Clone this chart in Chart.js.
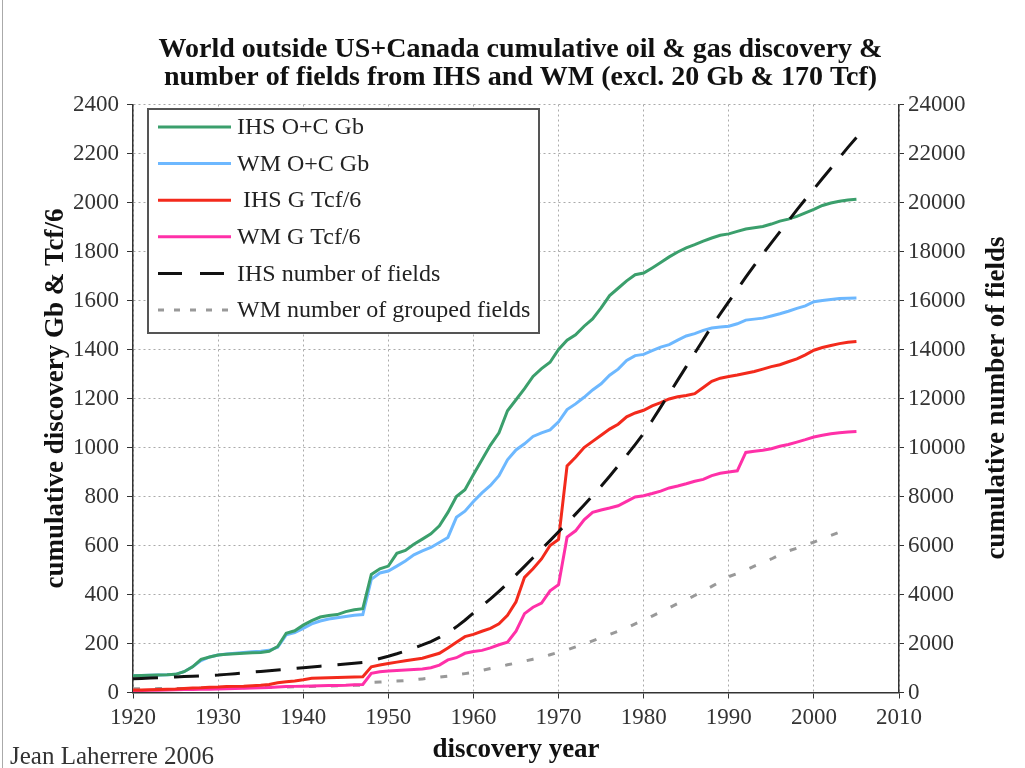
<!DOCTYPE html>
<html>
<head>
<meta charset="utf-8">
<title>World outside US+Canada cumulative oil & gas discovery</title>
<script src="https://cdn.jsdelivr.net/npm/chart.js@4.4.1/dist/chart.umd.min.js"></script>
<style>
  html, body { margin: 0; padding: 0; background: #fff; }
  #wrap { width: 1025px; height: 768px; }
</style>
</head>
<body>
<div id="wrap"><canvas id="discoveryChart" width="1025" height="768"></canvas></div>
<script>
  const years = [
    1920, 1921, 1922, 1923, 1924, 1925, 1926, 1927, 1928, 1929,
    1930, 1931, 1932, 1933, 1934, 1935, 1936, 1937, 1938, 1939,
    1940, 1941, 1942, 1943, 1944, 1945, 1946, 1947, 1948, 1949,
    1950, 1951, 1952, 1953, 1954, 1955, 1956, 1957, 1958, 1959,
    1960, 1961, 1962, 1963, 1964, 1965, 1966, 1967, 1968, 1969,
    1970, 1971, 1972, 1973, 1974, 1975, 1976, 1977, 1978, 1979,
    1980, 1981, 1982, 1983, 1984, 1985, 1986, 1987, 1988, 1989,
    1990, 1991, 1992, 1993, 1994, 1995, 1996, 1997, 1998, 1999,
    2000, 2001, 2002, 2003, 2004, 2005
  ];

  // left axis, Gb
  const ihsOilGas = [
    68, 69, 70, 71, 72, 74, 85, 105, 135, 145,
    153, 156, 158, 160, 162, 163, 168, 188, 242, 252,
    275, 293, 308, 314, 318, 330, 338, 342, 482, 505,
    516, 568, 580, 605, 626, 648, 680, 735, 800, 828,
    890, 950, 1010, 1060, 1150, 1195, 1240, 1290, 1322, 1348,
    1400, 1438, 1460, 1495, 1525, 1570, 1620, 1650, 1680, 1705,
    1712, 1733, 1755, 1778, 1798, 1815, 1828, 1842, 1855, 1866,
    1872, 1882, 1892, 1897, 1902, 1912, 1924, 1932, 1943, 1958,
    1972, 1988, 1998, 2005, 2010, 2013
  ];
  const wmOilGas = [
    68, 69, 70, 71, 72, 74, 85, 105, 130, 145,
    153, 157, 160, 163, 166, 168, 172, 185, 235, 245,
    262, 280, 292, 300, 305, 310, 315, 318, 462, 488,
    496, 516, 537, 562, 578, 592, 612, 633, 715, 740,
    780, 815, 845, 885, 950, 990, 1015, 1045, 1060, 1072,
    1105, 1155, 1178, 1205, 1235, 1260, 1295, 1320, 1355, 1375,
    1380, 1395, 1410, 1420, 1438, 1455, 1465, 1478, 1488, 1492,
    1495, 1505, 1520, 1524, 1528, 1537, 1546, 1556, 1568, 1578,
    1595, 1600, 1604, 1608, 1609, 1610
  ];
  const ihsGas = [
    10, 10, 11, 12, 13, 14, 16, 18, 19, 21,
    22, 24, 25, 26, 28, 30, 33, 40, 44, 47,
    52, 58, 59, 60, 61, 62, 63, 64, 105, 112,
    118, 124, 130, 135, 140, 150, 160, 182, 205, 228,
    237, 250, 262, 280, 315, 370, 470, 505, 545, 600,
    625, 925, 960, 1000, 1025, 1050, 1075, 1095, 1125, 1141,
    1152, 1170, 1183, 1198, 1207, 1212, 1220, 1245, 1270, 1283,
    1290, 1296, 1303, 1310, 1320, 1330, 1338, 1350, 1362, 1378,
    1397, 1408, 1416, 1424, 1430, 1433
  ];
  const wmGas = [
    8, 8, 9, 9, 10, 11, 12, 12, 13, 13,
    14, 15, 16, 17, 18, 19, 20, 22, 24, 25,
    26, 27, 28, 29, 29, 30, 32, 33, 78, 85,
    88, 90, 92, 94, 96, 101, 112, 133, 142, 160,
    167, 172, 182, 195, 205, 250, 322, 348, 365, 415,
    440, 634, 660, 705, 735, 745, 753, 762, 780, 798,
    803, 812, 822, 835, 843, 852, 862, 870, 885, 895,
    900, 905, 980, 985, 989, 995, 1005, 1012, 1022, 1032,
    1043, 1050, 1056, 1060, 1063, 1065
  ];

  // right axis, number of fields
  const ihsFields = [
    560, 575, 590, 605, 620, 635, 650, 665, 680, 695,
    710, 740, 770, 800, 830, 860, 890, 920, 950, 985,
    1015, 1045, 1075, 1105, 1135, 1165, 1195, 1230, 1300, 1390,
    1480, 1580, 1690, 1810, 1940, 2080, 2250, 2450, 2680, 2950,
    3250, 3530, 3820, 4130, 4450, 4800, 5150, 5500, 5850, 6200,
    6560, 6920, 7280, 7650, 8030, 8420, 8830, 9250, 9680, 10120,
    10580, 11100, 11650, 12200, 12750, 13300, 13850, 14400, 14950, 15450,
    15950, 16450, 16950, 17430, 17900, 18350, 18800, 19250, 19700, 20130,
    20550, 20980, 21400, 21830, 22250, 22650
  ];
  const wmGroupedFields = [
    150, 153, 156, 159, 162, 165, 168, 171, 174, 177,
    180, 186, 192, 198, 204, 210, 216, 222, 228, 234,
    240, 248, 257, 266, 275, 283, 291, 300, 410, 425,
    440, 465, 490, 520, 555, 590, 630, 670, 720, 770,
    820, 900, 980, 1050, 1130, 1200, 1280, 1360, 1440, 1540,
    1640, 1740, 1860, 1980, 2110, 2240, 2370, 2500, 2630, 2800,
    2950, 3120, 3290, 3460, 3630, 3790, 3960, 4150, 4330, 4530,
    4730, 4860, 5000, 5160, 5310, 5450, 5620, 5780, 5890, 6020,
    6140, 6280, 6410, 6540, 6650, null
  ];

  const titleLines = [
    'World outside US+Canada cumulative oil & gas discovery &',
    'number of fields from IHS and WM (excl. 20 Gb & 170 Tcf)'
  ];
  const leftTitle = 'cumulative discovery Gb & Tcf/6';
  const rightTitle = 'cumulative number of fields';
  const xTitle = 'discovery year';
  const credit = 'Jean Laherrere 2006';

  const SERIF = '"Liberation Serif", "Times New Roman", serif';

  function points(values) {
    return years.map((yr, i) => ({ x: yr, y: values[i] }));
  }

  // white page, legend box, right axis title and credit
  const extrasPlugin = {
    id: 'extras',
    beforeDraw(chart) {
      const ctx = chart.ctx;
      ctx.save();
      ctx.fillStyle = '#fff';
      ctx.fillRect(0, 0, chart.width, chart.height);
      ctx.strokeStyle = '#aaa';
      ctx.lineWidth = 1;
      ctx.beginPath();
      ctx.moveTo(2.5, 0);
      ctx.lineTo(2.5, chart.height);
      ctx.stroke();
      ctx.restore();
    },
    afterDraw(chart) {
      const ctx = chart.ctx;
      ctx.save();

      // legend
      const bx = 148, by = 109, bw = 391, bh = 224;
      ctx.fillStyle = '#fff';
      ctx.fillRect(bx, by, bw, bh);
      ctx.strokeStyle = '#555';
      ctx.lineWidth = 2;
      ctx.strokeRect(bx, by, bw, bh);

      ctx.font = '24px ' + SERIF;
      ctx.textBaseline = 'middle';
      ctx.textAlign = 'left';
      chart.data.datasets.forEach((ds, i) => {
        const y = by + 18 + i * 36.6;
        ctx.strokeStyle = ds.borderColor;
        ctx.lineWidth = 3;
        ctx.setLineDash(ds.legendDash || []);
        ctx.beginPath();
        ctx.moveTo(bx + 10, y);
        ctx.lineTo(bx + 83, y);
        ctx.stroke();
        ctx.setLineDash([]);
        ctx.fillStyle = '#222';
        ctx.fillText(ds.label, bx + 89, y + 1);
      });

      // right axis title, reads bottom to top
      ctx.font = 'bold 27px ' + SERIF;
      ctx.fillStyle = '#111';
      ctx.textAlign = 'center';
      ctx.translate(997, 398);
      ctx.rotate(-Math.PI / 2);
      ctx.fillText(rightTitle, 0, 0);
      ctx.setTransform(1, 0, 0, 1, 0, 0);

      ctx.font = '25px ' + SERIF;
      ctx.fillStyle = '#333';
      ctx.textAlign = 'left';
      ctx.fillText(credit, 10, 757);
      ctx.restore();
    }
  };

  const ctx = document.getElementById('discoveryChart').getContext('2d');
  new Chart(ctx, {
    type: 'line',
    data: {
      datasets: [
        { label: 'IHS O+C Gb', data: points(ihsOilGas), borderColor: '#3b9f6c', yAxisID: 'y' },
        { label: 'WM O+C Gb', data: points(wmOilGas), borderColor: '#6db8ff', yAxisID: 'y' },
        { label: ' IHS G Tcf/6', data: points(ihsGas), borderColor: '#f32a1c', yAxisID: 'y' },
        { label: 'WM G Tcf/6', data: points(wmGas), borderColor: '#ff30a8', yAxisID: 'y' },
        { label: 'IHS number of fields', data: points(ihsFields), borderColor: '#111',
          borderDash: [25, 16], legendDash: [24, 18], yAxisID: 'y2', order: -1 },
        { label: 'WM number of grouped fields', data: points(wmGroupedFields), borderColor: '#999',
          borderDash: [7, 15], legendDash: [6, 10], yAxisID: 'y2' }
      ]
    },
    options: {
      responsive: false,
      animation: false,
      devicePixelRatio: 1,
      layout: { padding: { left: 16, top: 0, right: 0, bottom: 0 } },
      elements: {
        line: { borderWidth: 3, tension: 0, fill: false, borderCapStyle: 'butt' },
        point: { radius: 0, hoverRadius: 0 }
      },
      plugins: {
        legend: { display: false },
        tooltip: { enabled: false },
        title: {
          display: true,
          text: titleLines,
          color: '#111',
          font: { family: SERIF, size: 28, weight: 'bold', lineHeight: 1.0 },
          padding: { top: 36, bottom: 12.5 }
        }
      },
      scales: {
        x: {
          type: 'linear',
          min: 1920,
          max: 2010,
          afterFit: s => { s.height = 75.5; },
          ticks: {
            stepSize: 10,
            color: '#333',
            font: { family: SERIF, size: 23 },
            padding: 6,
            maxRotation: 0,
            callback: v => String(v)
          },
          grid: { color: '#aaa', lineWidth: 1, tickLength: 6, tickColor: '#333' },
          border: { color: '#333', width: 1.5, dash: [2, 3] },
          title: {
            display: true,
            text: xTitle,
            color: '#111',
            font: { family: SERIF, size: 27, weight: 'bold' },
            padding: { top: 0, bottom: 2 }
          }
        },
        y: {
          position: 'left',
          min: 0,
          max: 2400,
          afterFit: s => { s.width = 117; },
          ticks: {
            stepSize: 200,
            color: '#333',
            font: { family: SERIF, size: 23 },
            padding: 8,
            callback: v => String(v)
          },
          grid: { color: '#aaa', lineWidth: 1, tickLength: 6, tickColor: '#333' },
          border: { color: '#333', width: 1.5, dash: [2, 3] },
          title: {
            display: true,
            text: leftTitle,
            color: '#111',
            font: { family: SERIF, size: 27, weight: 'bold' },
            padding: { top: 24, bottom: 0 }
          }
        },
        y2: {
          position: 'right',
          min: 0,
          max: 24000,
          afterFit: s => { s.width = 126; },
          ticks: {
            stepSize: 2000,
            color: '#333',
            font: { family: SERIF, size: 23 },
            padding: 4,
            callback: v => String(v)
          },
          grid: { drawOnChartArea: false, tickLength: 5, tickColor: '#333' },
          border: { color: '#333', width: 1.5 }
        }
      }
    },
    plugins: [extrasPlugin]
  });
</script>
</body>
</html>
